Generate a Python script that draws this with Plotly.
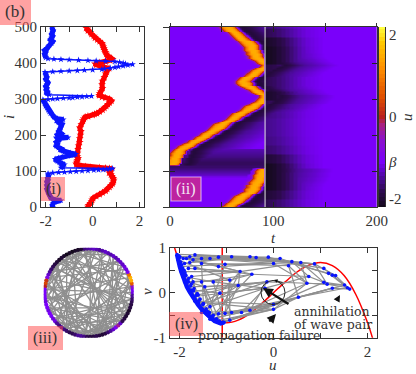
import numpy as np
import plotly.graph_objects as go

W, H = 416, 374
FONT = "Liberation Serif"
INK = "#333333"

# panel (i): snapshot of the two variables along the node index
blue_i = [0,5,10,14,18,20,25,30,35,40,45,50,55,60,65,70,75,80,85,90,93,95,96,97,98,99,100,101,102,103,104,105,106,107,
          109,112,115,118,121,124,127,130,133,136,139,142,145,147,150,153,156,159,162,165,170,175,180,185,190,193,195,200,205,210,215,220,225,230,235,240,243,245,250,255,260,265,270,275,280,285,290,295,298,
          299,300,301,302,303,304,305,306,307,308,
          312,316,320,325,330,335,340,345,350,355,360,365,370,375,
          376,377,378,379,380,381,382,384,386,388,390,392,394,396,398,400,402,404,
          405,406,407,408,409,410,411,412,
          415,420,425,430,435,440,445,450,455,460,465,470,475,480,485,490,495,500]
blue_u = [-1.7,-1.72,-1.68,-1.62,-1.35,-1.6,-1.78,-1.82,-1.85,-1.9,-1.92,-1.95,-1.9,-1.95,-1.92,-1.95,-1.9,-1.92,-1.88,-1.9,-1.9,-1.7,-1.45,-1.2,-0.95,-0.7,-0.45,-0.2,0.05,0.25,0.45,0.6,0.72,0.85,
          -1.35,-1.25,-1.35,-1.2,-1.3,-1.42,-1.5,-1.55,-1.6,-1.45,-1.3,-1.05,-0.8,-0.72,-0.95,-1.2,-1.25,-1.4,-1.35,-1.45,-1.55,-1.5,-1.55,-1.45,-1.5,-1.05,-1.45,-1.5,-1.35,-1.45,-1.4,-1.35,-1.35,-1.3,-1.45,-1.55,-1.25,-1.5,-1.65,-1.7,-1.8,-1.85,-1.9,-1.95,-2.0,-2.02,-2.05,-2.1,-2.12,
          -1.9,-1.7,-1.5,-1.25,-1.0,-0.85,-0.65,-0.45,-0.25,-0.05,
          -1.85,-1.95,-1.92,-1.98,-1.95,-2.0,-1.95,-1.9,-1.95,-2.0,-1.95,-2.0,-2.0,-2.03,
          -1.7,-1.35,-1.0,-0.65,-0.35,0.0,0.39,0.5,0.75,0.95,1.1,1.3,1.5,1.7,1.4,1.3,1.15,0.95,
          0.55,0.15,-0.2,-0.6,-1.0,-1.35,-1.65,-1.9,
          -2.0,-2.02,-2.05,-2.0,-2.05,-1.95,-1.9,-1.85,-1.75,-1.7,-1.8,-1.75,-1.7,-1.75,-1.7,-1.68,-1.72,-1.7]
# stretches of the blue curve where it is one thin spike instead of a thick band
spike_rows = [(94, 108), (299, 308), (376, 412)]

red_i = [0,5,10,15,20,25,30,35,40,45,50,55,60,65,70,75,80,85,90,95,100,103,105,107,108,109,110,112,114,116,118,120,125,130,135,140,145,150,160,170,180,190,200,210,220,230,240,245,250,252,255,258,260,265,270,275,280,285,290,295,300,303,305,310,315,320,330,340,350,360,370,375,380,385,388,392,395,398,401,404,407,410,413,416,420,425,430,435,440,445,450,455,460,465,470,475,480,485,490,495,497]
red_u = [-0.2,-0.18,-0.1,-0.05,-0.02,0.02,0.15,0.3,0.42,0.55,0.62,0.72,0.78,0.85,0.88,0.9,0.88,0.82,0.78,0.7,0.72,0.78,0.8,0.72,0.55,0.3,-0.1,-0.3,-0.5,-0.6,-0.68,-0.7,-0.68,-0.65,-0.62,-0.65,-0.68,-0.65,-0.62,-0.6,-0.55,-0.55,-0.52,-0.5,-0.55,-0.48,-0.42,-0.38,-0.32,-0.2,0.0,0.08,0.18,0.3,0.42,0.5,0.58,0.65,0.72,0.8,0.72,0.55,0.4,0.28,0.3,0.35,0.42,0.4,0.42,0.5,0.55,0.6,0.62,0.7,0.5,0.35,0.15,0.1,0.3,0.55,0.75,0.85,0.8,0.7,0.62,0.58,0.55,0.5,0.48,0.45,0.42,0.4,0.3,0.2,0.1,0.05,-0.05,-0.1,-0.2,-0.22,-0.28]

# panel (ii): front position per row (one value every 5 nodes), None where no wave exists
row_i = list(range(0, 505, 5))
front_t = [53,56,59,61,63,65,67,70,73,76,77,78,79,80,81,83,84,85,85,86,87,88,None,None,
           0,1,1,2,3,4,5,6,8,10,13,16,20,23,26,29,32,35,38,40,43,45,47,50,54,58,60,63,65,68,72,75,77,80,83,86,88,90,90,86,82,80,76,73,70,69,68,70,72,76,78,80,83,87,90,93,89,86,83,81,80,79,78,77,76,76,75,73,71,68,66,64,62,60,57,55,53]
time_t = list(range(0, 202, 2))
# u behind the front, in steps of 2 time units after the front passes
wake_u = [1.45,1.5,1.5,1.3,0.8,-0.4,-1.4,-1.85,-1.95,-1.95,-1.9,-1.85,-1.8,-1.75,-1.7,-1.65,-1.6,-1.55,-1.5,-1.48,-1.45,-1.42,-1.4,-1.38,-1.35,-1.32,-1.3,-1.28,-1.25,-1.22,-1.2,-1.18,-1.16,-1.14,-1.12,-1.1]
# u ahead of the front, going back in steps of 2
lead_u = [1.3,0.9,0.1,-0.7,-1.05]
rest_u = -1.1
# rows just below the annihilation, ahead of the front the medium is still recovering
lead_rest = {85: -1.2, 90: -1.3, 95: -1.4, 100: -1.5, 105: -1.6}
gap_u = -1.7
# rows above the annihilation stay dark behind the new front
wake_floor = {120: -1.75, 125: -1.75, 130: -1.7, 135: -1.65, 140: -1.6, 145: -1.55, 150: -1.5, 155: -1.45, 160: -1.4}
# how dark the strip behind the kick at t=92 gets, one value every 25 nodes
kick_u = [-1.8,-2.0,-2.2,-2.2,-2.2,-2.0,-1.7,-1.6,-1.55,-1.55,-1.6,-1.8,-2.1,-1.8,-1.8,-1.9,-2.2,-2.2,-2.1,-1.8,-1.6]
# share of that darkness left, in steps of 4 time units after the kick
kick_left = [1.0,0.95,0.9,0.8,0.7,0.6,0.5,0.4,0.3,0.22,0.15,0.1,0.06,0.03]
kick_t = 92

bar_u = [-2.2,-2.1,-2.0,-1.9,-1.8,-1.7,-1.6,-1.5,-1.4,-1.3,-1.2,-1.1,-1.0,-0.9,-0.8,-0.7,-0.6,-0.5,-0.4,-0.3,-0.2,-0.1,0.0,
         0.1,0.2,0.3,0.4,0.5,0.6,0.7,0.8,0.9,1.0,1.1,1.2,1.3,1.4,1.5,1.6,1.7,1.8,1.9,2.0,2.1,2.2]
u_ticks = [-2, -1.09, 0, 2]
u_ticktext = ["-2", "<i>β</i>", "0", "2"]
colors = [[0.0, "#140a1c"], [0.09, "#2e0a50"], [0.16, "#4b0a9a"], [0.25, "#7a00fa"], [0.364, "#8a10d0"],
          [0.455, "#a82080"], [0.5, "#b82020"], [0.614, "#e05000"], [0.773, "#ff9000"], [0.909, "#ffc800"], [1.0, "#ffff40"]]

# panel (iii): node colours around the ring (every 4 degrees, from east counter-clockwise)
ring_u = [-1.2,-1.1,-0.6,0.6,1.5,1.6,0.8,-1.0,-1.2,-1.2,-1.3,-1.3,-1.3,-1.4,-1.3,-1.4,-1.4,-1.3,-1.4,-1.5,-1.4,-1.3,-1.4,-1.5,-1.6,
          -2.0,-2.1,-2.1,-2.2,-2.1,-2.2,-2.1,-2.0,-2.1,-2.0,-1.9,-1.8,-1.7,-1.5,-1.3,-0.9,0.2,0.4,0.0,-1.1,-1.1,-1.1,-1.1,-1.2,-1.1,-1.1,-1.2,-1.1,-1.1,-1.2,-1.2,
          -1.5,-1.6,-1.5,-1.6,-1.7,-1.8,-1.8,-1.7,-1.5,-1.5,-1.6,-1.8,-1.9,-1.9,-1.8,-1.9,-2.0,-1.9,-1.7,-1.5,-1.3,-1.0,-0.3,-1.3,-1.8,-1.9,-2.0,-2.0,-2.1,-1.9,-1.9,-1.8,-1.7,-1.5]
chord_a = [2,5,8,10,12,14,16,18,20,22,24,26,28,30,32,34,36,38,40,42,44,46,48,50,52,54,56,58,60,62,64,66,68,70,72,74,76,78,80,82,84,86,88,1,3,6,9,11,13,15,17,19,21,23,25,27,29,31,33,35,60,62,64,66,68,70,55,57,59,61,63,65,47,49,51,53,7,4,76,79,81,83,85,87,89,0,22,26,18,20,38,41,43,45,56,52,67,69,71,73]
chord_b = [47,62,40,70,55,75,50,66,60,68,72,58,64,80,75,62,85,70,88,78,5,82,12,85,20,88,25,2,30,10,35,15,38,18,42,24,46,28,50,32,54,36,58,30,24,33,28,38,22,30,27,34,41,37,44,39,48,43,52,47,75,78,82,74,80,86,72,69,83,71,77,87,66,63,70,65,52,68,12,6,20,16,26,8,34,44,47,33,24,28,60,67,58,73,80,76,84,3,9,14]

# panel (iv): phase plane
node_u = [-2.05,-1.99,-1.92,-1.85,-1.78,-1.67,-1.71,-1.78,-1.89,-1.53,-1.35,-1.17,-0.89,-0.5,-0.37,-0.11,0.14,0.39,0.58,0.87,1.07,1.17,1.25,1.32,1.07,1.14,1.51,1.57,1.62,1.25,
          -1.03,-1.53,-1.17,-0.71,-0.46,0,0.32,0.75,0.71,0.53,-0.14,-0.18,0,0,-0.5,-0.68,-0.89,-1.03,-1.17,-1.28,-1.35,-1.49,-1.6,-1.74,-1.67,-1.81,-1.71,-1.53,-1.46,-1.28,-0.93,-0.75,-1.14,
          -2.03,-1.99,-1.96,-1.92,-1.89,-1.84,-1.78,-1.72,-1.67,-1.6,-1.53,-1.46,-1.39,-1.32,-1.25,-1.17,-1.12,-1.05,-0.93,-1.53,-1.6,-1.42,-1.35,-1.81,-1.74,
          -2.0,-1.95,-1.9,-1.86,-1.82,-1.76,-1.7,-1.64,-1.57,-1.5,-1.43,-1.36,-1.29,-1.21,-1.15,-2.02,-1.97,-1.93,-1.88,-1.8,-1.75,-1.69,-1.62,-1.56,-1.49,-1.4,-1.3,-1.2,-1.08]
node_v = [0.85,0.8,0.76,0.76,0.8,0.84,0.73,0.67,0.65,0.76,0.76,0.79,0.8,0.8,0.78,0.79,0.76,0.69,0.67,0.64,0.54,0.43,0.39,0.38,0.23,0.19,0.17,0.11,0.08,0.1,
          0.63,0.65,0.58,0.47,0.41,0.65,0.6,0.36,0.21,-0.1,0.24,0.1,-0.26,-0.37,-0.39,-0.44,-0.44,-0.46,-0.47,-0.5,-0.31,-0.24,-0.05,0.36,0.54,0.54,0.24,0.24,0.13,0.24,0.28,0.16,-0.01,
          0.73,0.58,0.47,0.36,0.24,0.13,0.02,-0.09,-0.19,-0.27,-0.36,-0.44,-0.51,-0.57,-0.63,-0.66,-0.68,-0.66,-0.61,-0.44,-0.21,-0.48,-0.59,0.24,0.06,
          0.78,0.62,0.5,0.38,0.28,0.15,0.04,-0.06,-0.16,-0.26,-0.36,-0.44,-0.52,-0.58,-0.63,0.82,0.68,0.55,0.44,0.32,0.19,0.09,-0.02,-0.14,-0.25,-0.42,-0.55,-0.61,-0.67]
edge_a = [0,1,2,3,4,5,5,6,7,8,9,10,11,12,13,14,15,16,30,31,32,9,19,20,21,22,23,24,25,29,24,25,38,37,38,39,39,39,36,17,18,36,33,34,35,40,41,42,43,43,42,44,45,46,47,48,49,50,51,52,53,54,55,56,57,58,59,60,61,62,62,1,2,3,63,64,65,66,67,68,69,70,71,72,73,74,75,76,77,78,79,80,81,82,83,84,85,86,87,53,56,57,58,59,60,61,33,34,30,31,40,41,62,57,66,67,68,69,64,65,33,60]
edge_b = [13,15,16,17,18,19,16,14,13,12,17,18,19,17,19,20,21,22,18,36,35,35,23,26,27,28,28,26,27,28,18,19,26,24,25,27,26,29,38,37,38,39,18,37,38,38,37,29,39,38,24,39,38,42,39,43,42,41,40,61,33,34,33,60,34,40,41,34,40,41,33,33,32,34,60,30,33,59,60,61,40,41,42,62,61,62,44,45,43,43,42,39,42,44,43,46,44,58,62,72,74,76,79,80,81,47,48,49,50,51,44,45,46,49,74,75,77,78,72,73,61,47]
# nodes of the crowded left branch, in order along the branch
branch_nodes = [0,63,64,65,66,67,68,69,70,71,72,73,74,75,76,77,78,79,80]
cubic_u = [-2.2,-2.1,-2.0,-1.75,-1.5,-1.25,-1.0,-0.75,-0.5,-0.25,0,0.25,0.5,0.75,1.0,1.25,1.5,1.75,2.0,2.1,2.2]
cubic_v = [1.35,0.99,0.67,0.04,-0.38,-0.6,-0.67,-0.61,-0.46,-0.24,0,0.24,0.46,0.61,0.67,0.6,0.38,-0.04,-0.67,-0.99,-1.35]
beta_line_u = [-1.09, -1.09]
beta_line_v = [-1, 1]


def dom_x(a, b):
    return [a / W, b / W]


def dom_y(top, bottom):
    return [1 - bottom / H, 1 - top / H]


def px(x):
    return x / W


def py(y):
    return 1 - y / H


# build the spatiotemporal cells from the rows and tables above
z = []
for n, front in enumerate(front_t):
    row = []
    for t in time_t:
        val = lead_rest.get(row_i[n], rest_u)
        if front is None:
            val = gap_u if t <= kick_t else rest_u
        elif t >= front:
            k = (t - front) // 2
            val = wake_u[k] if k < len(wake_u) else rest_u
            if val < 0 and row_i[n] in wake_floor and t <= kick_t:
                val = min(val, wake_floor[row_i[n]])
        else:
            k = (front - t) // 2
            if k < len(lead_u):
                val = lead_u[k]
        if t >= kick_t:
            k = (t - kick_t) // 4
            if k < len(kick_left):
                dark = rest_u + (kick_u[row_i[n] // 25] - rest_u) * kick_left[k]
                val = min(val, dark)
        row.append(val)
    z.append(row)

# thick part of the blue curve: gaps where the spikes run
band_i, band_u = [], []
for i, u in zip(blue_i, blue_u):
    in_spike = any(a <= i <= b for a, b in spike_rows)
    band_i.append(None if in_spike else i)
    band_u.append(None if in_spike else u)

fig = go.Figure()

# (i)
fig.add_trace(go.Scatter(x=red_u, y=red_i, mode="lines+markers", xaxis="x", yaxis="y",
                         line=dict(color="#ff0000", width=5),
                         marker=dict(symbol="star", size=6, color="#ff0000")))
fig.add_trace(go.Scatter(x=blue_u, y=blue_i, mode="lines+markers", xaxis="x", yaxis="y",
                         line=dict(color="#0a14ff", width=1.5),
                         marker=dict(symbol="star", size=5, color="#0a14ff")))
fig.add_trace(go.Scatter(x=band_u, y=band_i, mode="lines", xaxis="x", yaxis="y",
                         line=dict(color="#0a14ff", width=5)))

# (ii)
fig.add_trace(go.Heatmap(x=time_t, y=row_i, z=z, xaxis="x2", yaxis="y2", zmin=-2.2, zmax=2.2, zsmooth="best",
                         colorscale=colors, showscale=False))
fig.add_trace(go.Scatter(x=[92, 92], y=[0, 500], mode="lines", xaxis="x2", yaxis="y2",
                         line=dict(color="rgba(255,255,255,0.6)", width=1.5)))
# outer tick marks of the heatmap frame
fig.add_trace(go.Scatter(x=[None], y=[None], mode="lines", xaxis="x5", yaxis="y5"))
# colour key, drawn on its own axes
fig.add_trace(go.Heatmap(x=[0, 1], y=bar_u, z=[[v, v] for v in bar_u], xaxis="x6", yaxis="y6", zmin=-2.2, zmax=2.2,
                         colorscale=colors, showscale=False))

# (iii)
ring_ang = np.deg2rad(np.arange(len(ring_u)) * 4.0)
ring_x = np.cos(ring_ang)
ring_y = np.sin(ring_ang)
cx, cy = [], []
for a, b in zip(chord_a, chord_b):
    cx += [ring_x[a], ring_x[b], None]
    cy += [ring_y[a], ring_y[b], None]
fig.add_trace(go.Scatter(x=cx, y=cy, mode="lines", xaxis="x3", yaxis="y3",
                         line=dict(color="#8f8f8f", width=1.3)))
fig.add_trace(go.Scatter(x=ring_x, y=ring_y, mode="markers", xaxis="x3", yaxis="y3",
                         marker=dict(size=4.2, color=ring_u, colorscale=colors, cmin=-2.2, cmax=2.2, showscale=False)))

# (iv)
ex, ey = [], []
for a, b in zip(edge_a, edge_b):
    ex += [node_u[a], node_u[b], None]
    ey += [node_v[a], node_v[b], None]
fig.add_trace(go.Scatter(x=beta_line_u, y=beta_line_v, mode="lines", xaxis="x4", yaxis="y4",
                         line=dict(color="#ff0000", width=1.5)))
fig.add_trace(go.Scatter(x=cubic_u, y=cubic_v, mode="lines", xaxis="x4", yaxis="y4",
                         line=dict(color="#ff0000", width=1.5, shape="spline")))
fig.add_trace(go.Scatter(x=ex, y=ey, mode="lines", xaxis="x4", yaxis="y4",
                         line=dict(color="#8f8f8f", width=1.2)))
fig.add_trace(go.Scatter(x=[node_u[k] for k in branch_nodes], y=[node_v[k] for k in branch_nodes], mode="lines",
                         xaxis="x4", yaxis="y4", line=dict(color="#0a14ff", width=4.5)))
fig.add_trace(go.Scatter(x=node_u, y=node_v, mode="markers", xaxis="x4", yaxis="y4",
                         marker=dict(size=3.6, color="#0a14ff")))


def frame(**kw):
    base = dict(showgrid=False, zeroline=False, showline=True, linecolor=INK, linewidth=1.2, mirror="ticks",
                ticks="inside", ticklen=5, tickcolor=INK, tickwidth=1,
                tickfont=dict(family=FONT, size=15, color=INK))
    base.update(kw)
    return base


fig.update_layout(
    width=W, height=H, autosize=False, margin=dict(l=0, r=0, t=0, b=0, autoexpand=False),
    paper_bgcolor="white", plot_bgcolor="white", showlegend=False,
    xaxis=frame(domain=dom_x(41, 144.3), range=[-2.2, 2.2], tickvals=[-2, -1, 0, 1, 2], ticktext=["-2", "", "0", "", "2"], anchor="y"),
    yaxis=frame(domain=dom_y(27, 207), range=[0, 500], tickvals=[0, 100, 200, 300, 400, 500], anchor="x"),
    xaxis2=frame(domain=dom_x(170, 376.7), range=[0, 200], tickvals=[0, 50, 100, 150, 200], ticktext=["0", "", "100", "", "200"], anchor="y2", tickcolor="#222222"),
    yaxis2=frame(domain=dom_y(27, 207), range=[0, 500], tickvals=[0, 100, 200, 300, 400, 500], showticklabels=False, anchor="x2", tickcolor="#222222"),
    xaxis5=dict(overlaying="x2", side="top", range=[0, 200], tickvals=[0, 50, 100, 150, 200], ticks="outside", ticklen=3, showticklabels=False, showgrid=False, zeroline=False, tickcolor=INK, anchor="y5"),
    yaxis5=dict(overlaying="y2", side="left", range=[0, 500], tickvals=[0, 100, 200, 300, 400, 500], ticks="outside", ticklen=6, showticklabels=False, showgrid=False, zeroline=False, tickcolor=INK, anchor="x5"),
    xaxis6=dict(domain=dom_x(379, 385), range=[0, 1], visible=False, anchor="y6"),
    yaxis6=frame(domain=dom_y(27, 207), range=[-2.2, 2.2], side="right", tickmode="array", tickvals=u_ticks, ticktext=u_ticktext, ticks="", anchor="x6", mirror=True),
    xaxis3=dict(domain=dom_x(43.7, 133.7), range=[-1.02, 1.02], visible=False, anchor="y3"),
    yaxis3=dict(domain=dom_y(247.7, 337.7), range=[-1.02, 1.02], visible=False, anchor="x3"),
    xaxis4=frame(domain=dom_x(170, 377), range=[-2.2, 2.2], tickvals=[-2, -1, 0, 1, 2], ticktext=["-2", "", "0", "", "2"], anchor="y4"),
    yaxis4=frame(domain=dom_y(247.7, 337.7), range=[-1, 1], tickvals=[-1, -0.5, 0, 0.5, 1], ticktext=["-1", "", "0", "", "1"], anchor="x4"),
)

# pink label boxes and plain texts, positions in page pixels
shapes = []
for x0, y0, x1, y1, line in [(0, 0, 31, 25, None), (41, 177, 65, 201, None), (171, 177, 201, 201, "rgba(255,255,255,0.6)"),
                             (28, 326, 63, 350, None), (169, 312, 203, 336, None)]:
    shapes.append(dict(type="rect", xref="paper", yref="paper", x0=px(x0), x1=px(x1), y0=py(y0), y1=py(y1),
                       fillcolor="rgba(255,70,70,0.5)", layer="above",
                       line=dict(color=line or "rgba(0,0,0,0)", width=1.2)))
shapes.append(dict(type="circle", xref="paper", yref="paper", x0=px(261), x1=px(285), y0=py(304.5), y1=py(280.5),
                   line=dict(color="#222222", width=1), layer="above"))
fig.update_layout(shapes=shapes)


def label(x, y, text, size=15, angle=0, color=INK, xanchor="center", family=FONT):
    fig.add_annotation(xref="paper", yref="paper", x=px(x), y=py(y), text=text, showarrow=False,
                       font=dict(family=family, size=size, color=color), textangle=angle,
                       xanchor=xanchor, yanchor="middle")


def arrow(x0, y0, x1, y1, width):
    fig.add_annotation(xref="paper", yref="paper", axref="pixel", ayref="pixel", x=px(x1), y=py(y1), ax=x0 - x1, ay=y0 - y1,
                       text="", showarrow=True, arrowhead=2, arrowsize=0.9, arrowwidth=width, arrowcolor="#111111")


label(15, 11, "(b)", 17)
label(53, 189, "(i)", 16)
label(186, 189, "(ii)", 16, color="#f4e8f4")
label(45, 338, "(iii)", 16)
label(186, 324, "(iv)", 16)
label(9, 117, "<i>i</i>", 15, angle=-90)
label(273, 238, "<i>t</i>", 15)
label(273, 365, "<i>u</i>", 15)
label(147, 292, "<i>v</i>", 15, angle=-90)
label(407, 117, "<i>u</i>", 15, angle=-90)
label(292, 311, "annihilation", 12.5, xanchor="left", family="DejaVu Serif")
label(292, 324, "of wave pair", 12.5, xanchor="left", family="DejaVu Serif")
label(196, 335, "propagation failure", 12.5, xanchor="left", family="DejaVu Serif")
arrow(290, 305, 263, 288, 2.2)
arrow(268, 323, 276, 314, 2)
arrow(336, 302, 340, 295, 1.5)
arrow(284, 283, 274, 280, 0.8)

# the page's default body margin would shift the whole figure
fig.write_html("out.html", config=dict(displayModeBar=False),
               post_script="document.body.style.margin='0';document.documentElement.style.overflow='hidden';")
